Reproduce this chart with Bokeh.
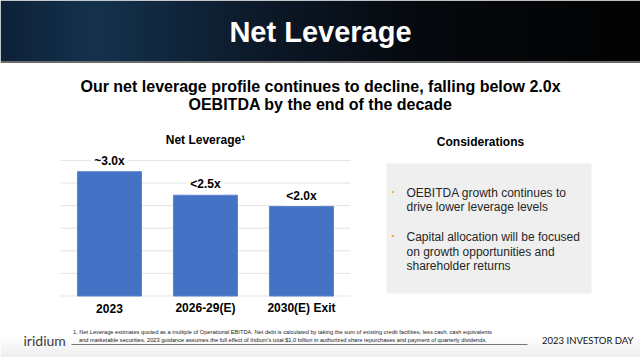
import numpy as np
from bokeh.plotting import figure
from bokeh.models import Range1d
from bokeh.core.properties import value
from bokeh.embed import file_html
from bokeh.resources import INLINE

# ---- data ----
categories = ["2023", "2026-29(E)", "2030(E) Exit"]
leverage = [2.75, 2.23, 1.98]
bar_labels = ["~3.0x", "<2.5x", "<2.0x"]
grid_ticks = [0.0, 0.5, 1.0, 1.5, 2.0, 2.5, 3.0]

slide_title = "Net Leverage"
subtitle_lines = ["Our net leverage profile continues to decline, falling below 2.0x",
                  "OEBITDA by the end of the decade"]
chart_title = "Net Leverage\u00b9"
side_title = "Considerations"
bullet_lines = [["OEBITDA growth continues to", "drive lower leverage levels"],
                ["Capital allocation will be focused", "on growth opportunities and", "shareholder returns"]]
footnote_lines = ["1. Net Leverage estimates quoted as a multiple of Operational EBITDA. Net debt is calculated by taking the sum of existing credit facilities, less cash, cash equivalents",
                  "and marketable securities.  2023 guidance assumes the full effect of Iridium's total $1.0 billion in authorized share repurchases and payment of quarterly dividends."]
logo_text = "iridium"
event_text = "2023 INVESTOR DAY"

W, H = 640, 357
SANS = value("Liberation Sans")

p = figure(width=W, height=H, x_range=Range1d(0, W), y_range=Range1d(H, 0),
           output_backend="svg", toolbar_location=None, min_border=0,
           x_axis_location=None, y_axis_location=None)
p.grid.visible = False
p.outline_line_color = None
p.background_fill_color = "white"
p.border_fill_color = "white"

# chart scales (category index -> x, leverage -> y)
p.extra_x_ranges = {"cat": Range1d(-1.135, 5.532)}
p.extra_y_ranges = {"lev": Range1d(-1.3606, 6.5376)}

# ---- header band ----
hh = 61
xs = np.linspace(0, 1, W)
stops_x = [0.0, 0.15, 0.4, 0.65, 1.0]
stops_c = np.array([[14, 34, 56], [20, 50, 78], [13, 26, 42], [6, 9, 14], [3, 3, 3]], dtype=float)
cols = np.stack([np.interp(xs, stops_x, stops_c[:, k]) for k in range(3)], axis=1)
img = np.zeros((hh, W), dtype=np.uint32)
view = img.view(dtype=np.uint8).reshape((hh, W, 4))
view[:, :, 0] = cols[None, :, 0]
view[:, :, 1] = cols[None, :, 1]
view[:, :, 2] = cols[None, :, 2]
view[:, :, 3] = 255
p.image_rgba(image=[img], x=0, y=0, dw=W, dh=hh)
p.segment(x0=[0], x1=[W], y0=[hh + 0.5], y1=[hh + 0.5], line_color="#6b6b6b", line_width=2)

p.text(x=[W / 2], y=[31], text=[slide_title], text_align="center", text_baseline="middle",
       text_font=SANS, text_font_style="bold", text_font_size="29px", text_color="white")

# ---- subtitle ----
p.text(x=[W / 2] * len(subtitle_lines), y=[86 + 18 * i for i in range(len(subtitle_lines))],
       text=subtitle_lines, text_align="center", text_baseline="middle",
       text_font=SANS, text_font_style="bold", text_font_size="16px", text_color="black")

# ---- bar chart ----
idx = list(range(len(categories)))
n = len(categories)
p.segment(x0=[-0.51] * len(grid_ticks), x1=[n - 0.49] * len(grid_ticks), y0=grid_ticks, y1=grid_ticks,
          x_range_name="cat", y_range_name="lev", line_color="#e3e3e3", line_width=1)
p.vbar(x=idx, top=leverage, bottom=0, width=0.667, x_range_name="cat", y_range_name="lev",
       fill_color="#4472C4", line_color="#5b82cc", line_width=1)
p.text(x=idx, y=leverage, text=bar_labels, x_range_name="cat", y_range_name="lev",
       y_offset=-11, text_align="center", text_baseline="middle",
       text_font=SANS, text_font_style="bold", text_font_size="12px", text_color="black",
       background_fill_color="white", padding=3)
p.text(x=idx, y=[0] * n, text=categories, x_range_name="cat", y_range_name="lev",
       y_offset=12, text_align="center", text_baseline="middle",
       text_font=SANS, text_font_style="bold", text_font_size="12px", text_color="black")
p.text(x=[(n - 1) / 2], y=[max(grid_ticks)], text=[chart_title], x_range_name="cat", y_range_name="lev",
       y_offset=-20, text_align="center", text_baseline="middle",
       text_font=SANS, text_font_style="bold", text_font_size="12px", text_color="black")

# ---- considerations ----
p.text(x=[480], y=[141], text=[side_title], text_align="center", text_baseline="middle",
       text_font=SANS, text_font_style="bold", text_font_size="12px", text_color="black")
p.quad(left=[386], right=[591], top=[163], bottom=[293], fill_color="#efefef", line_color=None)
y = 192
for lines in bullet_lines:
    p.text(x=[391], y=[y - 1], text=["\u2022"], text_align="left", text_baseline="middle",
           text_font=SANS, text_font_size="8px", text_color="#f0a030")
    p.text(x=[406] * len(lines), y=[y + 14.7 * i for i in range(len(lines))], text=lines,
           text_align="left", text_baseline="middle",
           text_font=SANS, text_font_size="12px", text_color="#262626")
    y += 14.7 * len(lines) + 15

# ---- footer ----
fy = np.linspace(0, 1, 22)
fimg = np.zeros((22, W), dtype=np.uint32)
fv = fimg.view(dtype=np.uint8).reshape((22, W, 4))
g = (255 - 16 * fy).astype(np.uint8)
fv[:, :, 0] = g[:, None]
fv[:, :, 1] = g[:, None]
fv[:, :, 2] = g[:, None]
fv[:, :, 3] = 255
p.image_rgba(image=[fimg], x=0, y=335, dw=W, dh=22)

p.text(x=[72.5, 78.5], y=[331, 339], text=footnote_lines, text_align="left", text_baseline="middle",
       text_font=SANS, text_font_size="5.7px", text_color="#222222")
p.segment(x0=[71], x1=[527], y0=[344], y1=[344], line_color="#555555", line_width=0.8)
p.text(x=[23], y=[340], text=[logo_text], text_align="left", text_baseline="middle",
       text_font=value("Lato"), text_font_size="14px", text_color="#3a3a3a")
p.text(x=[633], y=[340], text=[event_text], text_align="right", text_baseline="middle",
       text_font=value("Lato"), text_font_size="9.5px", text_color="#111111")

open("out.html", "w").write(file_html(p, INLINE))
